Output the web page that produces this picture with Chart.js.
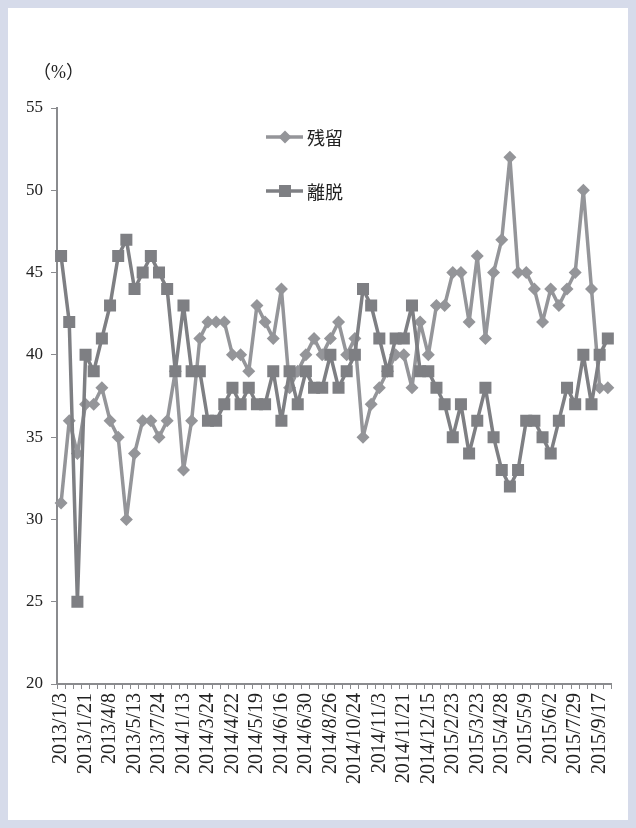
<!DOCTYPE html>
<html>
<head>
<meta charset="utf-8">
<script src="https://cdn.jsdelivr.net/npm/chart.js@4.4.1/dist/chart.umd.min.js"></script>
<style>
  html, body { margin: 0; padding: 0; }
  body { width: 636px; height: 828px; background: #d6dbea; position: relative; overflow: hidden; }
  #panel { position: absolute; left: 8px; top: 8px; right: 8px; bottom: 8px; background: #ffffff; }
  #chart { position: absolute; left: 0; top: 0; }
  #unit { position: absolute; left: 33px; top: 57px; font: 18px "Liberation Serif", "DejaVu Serif", "Noto Sans CJK JP", serif; color: #222; }
</style>
</head>
<body>
<div id="panel"></div>
<canvas id="chart" width="636" height="828"></canvas>
<div id="unit">（%）</div>
<script>
// Category labels (only every third date is printed on the axis)
const dateLabels = [
  '2013/1/3', '', '', '2013/1/21', '', '', '2013/4/8', '', '', '2013/5/13', '', '',
  '2013/7/24', '', '', '2014/1/13', '', '', '2014/3/24', '', '', '2014/4/22', '', '',
  '2014/5/19', '', '', '2014/6/16', '', '', '2014/6/30', '', '', '2014/8/26', '', '',
  '2014/10/24', '', '', '2014/11/3', '', '', '2014/11/21', '', '', '2014/12/15', '', '',
  '2015/2/23', '', '', '2015/3/23', '', '', '2015/4/28', '', '', '2015/5/9', '', '',
  '2015/6/2', '', '', '2015/7/29', '', '', '2015/9/17', ''
];

// 残留 (%)
const remainValues = [
  31, 36, 34, 37, 37, 38, 36, 35, 30, 34, 36, 36, 35, 36, 39, 33, 36,
  41, 42, 42, 42, 40, 40, 39, 43, 42, 41, 44, 38, 39, 40, 41, 40, 41,
  42, 40, 41, 35, 37, 38, 39, 40, 40, 38, 42, 40, 43, 43, 45, 45, 42,
  46, 41, 45, 47, 52, 45, 45, 44, 42, 44, 43, 44, 45, 50, 44, 38, 38
];

// 離脱 (%)
const leaveValues = [
  46, 42, 25, 40, 39, 41, 43, 46, 47, 44, 45, 46, 45, 44, 39, 43, 39,
  39, 36, 36, 37, 38, 37, 38, 37, 37, 39, 36, 39, 37, 39, 38, 38, 40,
  38, 39, 40, 44, 43, 41, 39, 41, 41, 43, 39, 39, 38, 37, 35, 37, 34,
  36, 38, 35, 33, 32, 33, 36, 36, 35, 34, 36, 38, 37, 40, 37, 40, 41
];

const seriesNames = ['残留', '離脱'];
const yTicks = { min: 20, max: 55, step: 5 };

const remainColor = '#949599';
const leaveColor = '#7e7f83';
const axisColor = '#8a8b8e';
const textColor = '#222222';
const serifFamily = '"Liberation Serif", "DejaVu Serif", serif';

// Legend drawn inside the plot area, one row per series
const insideLegend = {
  id: 'insideLegend',
  afterDatasetsDraw(chart) {
    const ctx = chart.ctx;
    const rows = [{ ds: 0, y: 137 }, { ds: 1, y: 191 }];
    ctx.save();
    rows.forEach(row => {
      const ds = chart.data.datasets[row.ds];
      ctx.strokeStyle = ds.borderColor;
      ctx.lineWidth = ds.borderWidth;
      ctx.beginPath();
      ctx.moveTo(266, row.y);
      ctx.lineTo(303, row.y);
      ctx.stroke();
      ctx.fillStyle = ds.pointBackgroundColor;
      ctx.beginPath();
      if (ds.pointStyle === 'rect') {
        ctx.rect(285 - 6, row.y - 6, 12, 12);
      } else {
        ctx.moveTo(285 - 6.5, row.y);
        ctx.lineTo(285, row.y - 6.5);
        ctx.lineTo(285 + 6.5, row.y);
        ctx.lineTo(285, row.y + 6.5);
        ctx.closePath();
      }
      ctx.fill();
      ctx.fillStyle = textColor;
      ctx.font = '18px "Noto Sans CJK JP", sans-serif';
      ctx.textBaseline = 'middle';
      ctx.textAlign = 'left';
      ctx.fillText(ds.label, 307, row.y + 1);
    });
    ctx.restore();
  }
};

const lineCommon = {
  borderWidth: 3.5,
  borderJoinStyle: 'round',
  borderCapStyle: 'round',
  pointBorderWidth: 0,
  tension: 0
};

new Chart(document.getElementById('chart'), {
  type: 'line',
  data: {
    labels: dateLabels,
    datasets: [
      Object.assign({
        label: seriesNames[0],
        data: remainValues,
        borderColor: remainColor,
        backgroundColor: remainColor,
        pointBackgroundColor: remainColor,
        pointBorderColor: remainColor,
        pointStyle: 'rectRot',
        pointRadius: 6.5,
        order: 2
      }, lineCommon),
      Object.assign({
        label: seriesNames[1],
        data: leaveValues,
        borderColor: leaveColor,
        backgroundColor: leaveColor,
        pointBackgroundColor: leaveColor,
        pointBorderColor: leaveColor,
        pointStyle: 'rect',
        pointRadius: 8.5,
        order: 1
      }, lineCommon)
    ]
  },
  options: {
    responsive: false,
    animation: false,
    events: [],
    layout: { padding: { left: 0, top: 108, right: 23, bottom: 0 } },
    plugins: { legend: { display: false }, tooltip: { enabled: false } },
    scales: {
      x: {
        type: 'category',
        offset: true,
        border: { display: true, color: axisColor, width: 2 },
        grid: { display: true, offset: true, drawOnChartArea: false, drawTicks: true, tickLength: 5, color: axisColor, lineWidth: 1 },
        ticks: {
          autoSkip: false,
          minRotation: 90,
          maxRotation: 90,
          padding: 4,
          color: textColor,
          font: { family: serifFamily, size: 20 }
        },
        afterFit(scale) { scale.height = 828 - 684; }
      },
      y: {
        min: yTicks.min,
        max: yTicks.max,
        border: { display: true, color: axisColor, width: 2 },
        grid: { display: true, drawOnChartArea: false, drawTicks: true, tickLength: 6, color: axisColor },
        ticks: {
          stepSize: yTicks.step,
          padding: 8,
          color: textColor,
          font: { family: serifFamily, size: 17 }
        },
        afterFit(scale) { scale.width = 57; }
      }
    }
  },
  plugins: [insideLegend]
});
</script>
</body>
</html>
